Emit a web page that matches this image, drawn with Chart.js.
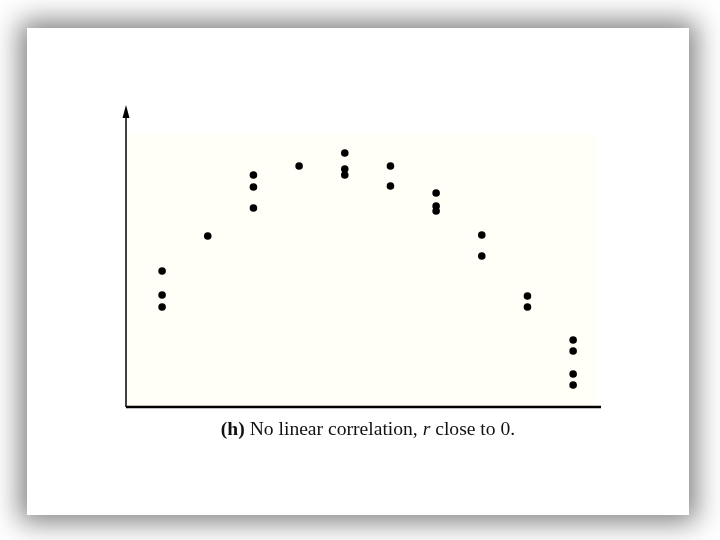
<!DOCTYPE html>
<html>
<head>
<meta charset="utf-8">
<script src="https://cdn.jsdelivr.net/npm/chart.js@4"></script>
<style>
  body { margin: 0; width: 720px; height: 540px; background: #fff; position: relative; overflow: hidden; }
  #card { position: absolute; left: 27px; top: 28px; width: 662px; height: 487px; background: #fff;
          box-shadow: 0 0 26px 7px rgba(0,0,0,0.5); }
  #chart { position: absolute; left: 0; top: 0; }
  #caption { position: absolute; left: 0; width: 736px; top: 418px; text-align: center;
             font-family: "Liberation Serif", "DejaVu Serif", serif; font-size: 19.6px; color: #111; }
</style>
</head>
<body>
<div id="card"></div>
<canvas id="chart" width="720" height="540"></canvas>
<div id="caption"><b>(h)</b> No linear correlation, <i>r</i> close to 0.</div>
<script>
// columns of points (x) and their heights (y)
const xValues = [1, 1, 1, 2, 3, 3, 3, 4, 5, 5, 5, 6, 6, 7, 7, 7, 8, 8, 9, 9, 10, 10, 10, 10];
const yValues = [13.6, 11.2, 10.0, 17.1, 23.2, 22.0, 19.9, 24.1, 25.4, 23.8, 23.2, 24.1, 22.1,
                 21.4, 20.1, 19.6, 17.2, 15.1, 11.1, 10.0, 6.7, 5.6, 3.3, 2.2];

const points = xValues.map((x, i) => ({ x: x, y: yValues[i] }));

// pale plot background, axes and arrow head
const axesPlugin = {
  id: 'axesPlugin',
  beforeDatasetsDraw(chart) {
    const { ctx, chartArea } = chart;
    ctx.save();
    ctx.fillStyle = '#fffff7';
    ctx.fillRect(chartArea.left + 1, chartArea.top + 28, chartArea.right - chartArea.left - 5, chartArea.bottom - chartArea.top - 28);

    ctx.strokeStyle = '#000';
    ctx.lineWidth = 1.5;
    ctx.beginPath();
    ctx.moveTo(chartArea.left, chartArea.bottom);
    ctx.lineTo(chartArea.left, chartArea.top + 8);
    ctx.stroke();

    ctx.fillStyle = '#000';
    ctx.beginPath();
    ctx.moveTo(chartArea.left, chartArea.top);
    ctx.lineTo(chartArea.left - 3.5, chartArea.top + 13);
    ctx.lineTo(chartArea.left + 3.5, chartArea.top + 13);
    ctx.closePath();
    ctx.fill();

    ctx.lineWidth = 2.5;
    ctx.beginPath();
    ctx.moveTo(chartArea.left, chartArea.bottom);
    ctx.lineTo(chartArea.right, chartArea.bottom);
    ctx.stroke();
    ctx.restore();
  }
};

new Chart(document.getElementById('chart'), {
  type: 'scatter',
  data: {
    datasets: [{
      data: points,
      backgroundColor: '#000',
      borderWidth: 0,
      pointRadius: 3.8,
      clip: false
    }]
  },
  options: {
    responsive: false,
    animation: false,
    layout: { padding: { left: 126, top: 105, right: 119, bottom: 133 } },
    plugins: { legend: { display: false }, tooltip: { enabled: false } },
    scales: {
      x: { type: 'linear', min: 0.21, max: 10.61, display: false },
      y: { type: 'linear', min: 0, max: 30.2, display: false }
    }
  },
  plugins: [axesPlugin]
});
</script>
</body>
</html>
